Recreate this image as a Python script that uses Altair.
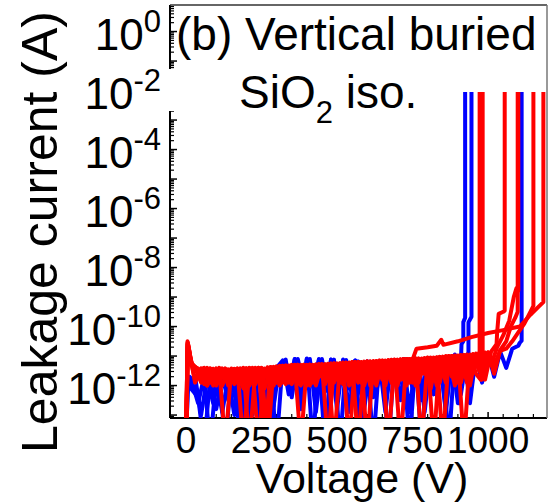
import altair as alt
import pandas as pd

# ---------------- data (log10 of leakage current, A) ----------------
GRID_A = [0, 6, 12, 20, 30, 50, 70, 90, 110, 130, 150, 170, 190, 210, 230, 250, 270, 290, 310, 330,
          350, 370, 390, 410, 430, 450, 470, 490, 510, 530, 550, 570, 590, 610, 630, 650, 670, 690,
          710, 730, 750, 770, 790, 810, 830, 850, 870, 890, 910, 930, 950, 970, 990, 1010, 1030,
          1050, 1070, 1090, 1110]
GRID_B = [0, 5, 10, 16, 40, 60, 80, 100, 120, 140, 160, 180, 200, 220, 240, 260, 280, 300, 320, 340,
          360, 380, 400, 420, 440, 460, 480, 500, 520, 540, 560, 580, 600, 620, 640, 660, 680, 700,
          720, 740, 760, 780, 800, 820, 840, 860, 880, 900, 920, 940, 960, 980, 1000, 1020, 1040,
          1060, 1080, 1100]

R1_LOG = [-14, -10.6, -10.9, -11.3, -11.4, -11.9, -11.45, -12.0, -11.4, -11.8,
          -11.45, -11.9, -11.4, -14, -11.45, -11.8, -11.4, -12.0, -11.35, -11.9,
          -11.3, -11.95, -11.3, -11.9, -11.3, -11.7, -11.28, -11.9, -11.25, -11.8,
          -11.2, -14, -11.2, -11.7, -11.18, -11.8, -11.15, -11.7, -11.12, -12.0,
          -11.1, -11.7, -11.08, -12.1, -11.05, -11.6, -11.0, -12.0, -10.98, -11.5, -10.95]
R1_TAIL_V = [965, 972, 972]
R1_TAIL_LOG = [-11.2, -11.35, -2.05]

R2_LOG = [-14, -10.55, -10.8, -11.2, -11.5, -11.4, -11.9, -11.42, -12.0, -11.45,
          -11.95, -11.42, -11.8, -11.4, -14, -11.42, -12.0, -11.35, -11.9, -11.32,
          -11.8, -11.3, -12.0, -11.3, -11.7, -11.27, -11.9, -11.25, -11.95, -11.22,
          -11.7, -11.2, -14, -11.17, -11.6, -11.15, -11.9, -11.12, -11.8, -11.1,
          -12.0, -11.08, -11.6, -11.05, -11.9, -11.0, -11.7, -10.98, -14, -10.95, -11.6]
R2_TAIL_V = [975, 982, 982]
R2_TAIL_LOG = [-11.8, -11.5, -2.05]

R3_LOG = [-14, -10.7, -11.0, -11.35, -11.9, -11.42, -12.0, -11.45, -11.8, -11.42,
          -11.9, -11.43, -12.1, -11.4, -11.7, -11.42, -14, -11.38, -11.9, -11.32,
          -11.95, -11.3, -11.75, -11.3, -12.0, -11.28, -11.8, -11.25, -11.9, -11.22,
          -11.9, -11.2, -12.0, -11.18, -11.7, -11.15, -14, -11.12, -11.8, -11.1,
          -11.9, -11.08, -11.6, -11.05, -12.0, -11.02, -11.55, -10.98, -11.9, -10.95,
          -11.4, -10.9, -11.8, -10.85]
R3_TAIL_V = [1028, 1030, 1035, 1050, 1055, 1055]
R3_TAIL_LOG = [-10.6, -10.2, -9.57, -9.5, -9.46, -2.05]

R4_LOG = [-14, -10.5, -10.75, -11.25, -11.45, -11.9, -11.42, -12.0, -11.45, -11.75,
          -11.43, -11.95, -11.42, -11.9, -11.4, -12.1, -11.38, -11.9, -11.33, -11.8,
          -11.3, -14, -11.3, -11.9, -11.28, -11.95, -11.26, -11.7, -11.23, -12.0,
          -11.2, -11.75, -11.18, -11.9, -11.16, -11.8, -11.13, -12.0, -11.1, -11.7,
          -11.08, -14, -11.06, -11.6, -11.03, -11.9, -11.0, -11.5, -10.97, -12.0,
          -10.93, -11.4, -10.88, -11.6, -10.8, -10.5]
R4_TAIL_V = [1075, 1090, 1098, 1098]
R4_TAIL_LOG = [-10.0, -9.7, -9.5, -2.05]

R5_LOG = [-14, -10.65, -10.95, -11.3, -11.42, -11.7, -11.4, -11.95, -11.43, -14,
          -11.42, -11.8, -11.42, -12.0, -11.4, -11.9, -11.38, -11.7, -11.33, -11.95,
          -11.32, -11.85, -11.3, -12.0, -11.28, -11.7, -11.26, -14, -11.24, -11.6,
          -11.21, -11.9, -11.19, -12.0, -11.17, -11.7, -11.14, -11.95, -11.11, -11.6,
          -11.1, -11.9, -11.07, -11.8, -11.04, -14, -11.0, -11.6, -10.97, -11.9,
          -10.93, -11.5, -10.88, -11.3]
R5_TAIL_V = [1030, 1050, 1070, 1085, 1094, 1100, 1100]
R5_TAIL_LOG = [-10.7, -10.3, -9.8, -9.0, -8.7, -8.78, -2.05]

R6_LOG = [-14, -10.6, -10.85, -11.3, -11.42, -11.95, -11.43, -11.8, -11.42, -12.0,
          -11.44, -11.9, -11.42, -11.7, -11.4, -14, -11.37, -11.8, -11.33, -11.9,
          -11.31, -12.0, -11.3, -11.7, -11.27, -11.95, -11.25, -11.8, -11.22, -14,
          -11.2, -11.9, -11.18, -11.65, -11.15, -12.0, -11.13, -11.7, -11.1, -11.9,
          -11.08, -11.6, -11.05, -14, -11.03, -11.55, -11.0, -11.9, -10.96, -11.4,
          -10.92, -11.8, -10.87, -11.3, -10.82, -10.75]
R6_TAIL_V = [1080, 1100, 1120, 1140, 1150, 1150]
R6_TAIL_LOG = [-10.5, -10.2, -9.9, -9.5, -9.3, -2.05]

R7_LOG = [-14, -10.55, -10.9, -11.35, -11.8, -11.44, -12.0, -11.43, -11.9, -11.44,
          -11.7, -11.42, -14, -11.41, -11.95, -11.4, -11.75, -11.37, -12.0, -11.33,
          -11.8, -11.3, -11.9, -11.29, -11.75, -11.27, -14, -11.25, -11.7, -11.23,
          -11.95, -11.2, -11.8, -11.19, -12.0, -11.16, -11.7, -11.13, -14, -11.1, -11.12]
R7_TAIL_V = [763, 800, 830, 845, 852, 900, 945, 1000, 1050, 1105, 1140, 1170, 1183, 1183]
R7_TAIL_LOG = [-10.75, -10.7, -10.65, -10.45, -10.62, -10.5, -10.36, -10.22, -10.12, -10.0,
               -9.6, -9.3, -9.17, -2.05]

B1_LOG = [-14, -12.3, -11.8, -11.75, -12.6, -11.7, -14, -11.75, -12.9, -11.7,
          -13.0, -11.72, -14, -11.68, -12.7, -11.6, -14, -11.4, -11.15, -12.3,
          -11.1, -12.8, -11.1, -11.9, -11.12, -14, -11.12, -12.4, -11.15, -12.9,
          -11.15, -12.3, -11.2, -14, -11.18, -12.6, -11.15, -12.1, -11.1, -12.9,
          -11.12, -14, -11.1, -12.3, -11.05, -12.9, -11.0, -12.6]
B1_TAIL_V = [905, 912, 918, 918, 924, 924]
B1_TAIL_LOG = [-12.6, -10.6, -10.5, -9.85, -9.7, -2.05]

B2_LOG = [-14, -12.0, -11.7, -11.9, -11.7, -13.0, -11.7, -12.6, -11.72, -14,
          -11.7, -12.8, -11.75, -13.0, -11.68, -14, -11.6, -12.7, -11.3, -11.12,
          -12.4, -11.1, -12.0, -11.1, -12.9, -11.1, -12.2, -11.12, -14, -11.13,
          -12.4, -11.18, -12.8, -11.2, -12.2, -11.17, -14, -11.13, -12.5, -11.1,
          -12.1, -11.1, -12.9, -11.07, -12.3, -11.05, -14, -10.95, -12.3, -10.95]
B2_TAIL_V = [935, 935, 945, 945]
B2_TAIL_LOG = [-10.9, -9.86, -9.67, -2.05]

B3_LOG = [-14, -11.9, -11.75, -12.1, -12.4, -14, -11.75, -12.8, -11.7, -12.5,
          -11.72, -14, -11.7, -13.0, -11.65, -12.6, -11.5, -14, -11.2, -12.1,
          -11.1, -12.5, -11.08, -14, -11.1, -12.2, -11.12, -12.8, -11.12, -12.1,
          -11.15, -14, -11.18, -12.4, -11.17, -12.9, -11.14, -12.2, -11.1, -14,
          -11.1, -12.5, -11.08, -12.0, -11.05, -12.8, -11.02, -12.1, -10.98, -12.6,
          -10.95, -11.9, -10.9, -11.7, -10.85, -11.4, -10.75, -10.65]
B3_TAIL_V = [1105, 1111, 1111]
B3_TAIL_LOG = [-10.55, -10.48, -2.05]

CURVES = [
    ("B1", "blue", GRID_B, B1_LOG, B1_TAIL_V, B1_TAIL_LOG),
    ("B2", "blue", GRID_A, B2_LOG, B2_TAIL_V, B2_TAIL_LOG),
    ("B3", "blue", GRID_B, B3_LOG, B3_TAIL_V, B3_TAIL_LOG),
    ("R1", "red", GRID_A, R1_LOG, R1_TAIL_V, R1_TAIL_LOG),
    ("R2", "red", GRID_B, R2_LOG, R2_TAIL_V, R2_TAIL_LOG),
    ("R3", "red", GRID_A, R3_LOG, R3_TAIL_V, R3_TAIL_LOG),
    ("R4", "red", GRID_B, R4_LOG, R4_TAIL_V, R4_TAIL_LOG),
    ("R5", "red", GRID_A, R5_LOG, R5_TAIL_V, R5_TAIL_LOG),
    ("R6", "red", GRID_B, R6_LOG, R6_TAIL_V, R6_TAIL_LOG),
    ("R7", "red", GRID_A, R7_LOG, R7_TAIL_V, R7_TAIL_LOG),
]

Y_LABEL_EXP = [0, -2, -4, -6, -8, -10, -12]
X_LABELS = [0, 250, 500, 750, 1000]
X_MINOR = [50, 100, 150, 200, 300, 350, 400, 450, 550, 600, 650, 700, 800, 850, 900, 950,
           1050, 1100, 1150]
Y_MAJOR_EXP = [0, -1, -2, -3, -4, -5, -6, -7, -8, -9, -10, -11, -12, -13]
MINOR_MULT = [2, 3, 4, 5, 6, 7, 8, 9]

TITLE_LINE1 = "(b) Vertical buried"
TITLE_SI = "SiO"
TITLE_SUB = "2"
TITLE_ISO = "iso."
X_TITLE = "Voltage (V)"
Y_TITLE = "Leakage current (A)"

# ---------------- build tables ----------------
rows = []
for name, col, grid, logs, tv, tl in CURVES:
    pts = list(zip(grid, logs)) + list(zip(tv, tl))
    for i, (v, l) in enumerate(pts):
        rows.append({"curve": name, "color": col, "V": v, "I": 10.0 ** l, "i": i})
df = pd.DataFrame(rows)

W, H = 377, 413
YMIN, YMAX = 10 ** -13.1, 10 ** 0.9
XS = alt.Scale(domain=[-53, 1195], nice=False, zero=False)
YS = alt.Scale(type="log", domain=[YMIN, YMAX], nice=False)
FONT = "Liberation Sans"

# Arial advance widths (em)
AW = {"-": 0.333, " ": 0.278}
for d in "0123456789":
    AW[d] = 0.556
AW.update({"S": 0.667, "i": 0.222, "O": 0.778})


def tw(s, size):
    return sum(AW.get(c, 0.556) for c in s) * size


one = pd.DataFrame({"a": [0]})

# ticks (inward)
ymaj = pd.DataFrame({"val": [10.0 ** k for k in Y_MAJOR_EXP]})
ymin_vals = [m * 10.0 ** k for k in range(-14, 1) for m in MINOR_MULT]
ymin = pd.DataFrame({"val": [v for v in ymin_vals if YMIN <= v <= YMAX]})
xmaj = pd.DataFrame({"v": X_LABELS})
xmin = pd.DataFrame({"v": X_MINOR})

ytick_major = alt.Chart(ymaj).mark_rule(color="black", strokeWidth=1.5).encode(
    y=alt.Y("val:Q", scale=YS, axis=None), x=alt.value(0), x2=alt.value(7))
ytick_minor = alt.Chart(ymin).mark_rule(color="black", strokeWidth=1.2).encode(
    y=alt.Y("val:Q", scale=YS, axis=None), x=alt.value(0), x2=alt.value(4))
xtick_major = alt.Chart(xmaj).mark_rule(color="black", strokeWidth=1.5).encode(
    x=alt.X("v:Q", scale=XS, axis=None), y=alt.value(H), y2=alt.value(H - 6))
xtick_minor = alt.Chart(xmin).mark_rule(color="black", strokeWidth=1.2).encode(
    x=alt.X("v:Q", scale=XS, axis=None), y=alt.value(H), y2=alt.value(H - 4))

# frame
f_left = alt.Chart(one).mark_rule(color="black", strokeWidth=2).encode(
    x=alt.value(0), y=alt.value(0), y2=alt.value(H))
f_bottom = alt.Chart(one).mark_rule(color="black", strokeWidth=2).encode(
    x=alt.value(0), x2=alt.value(W), y=alt.value(H))
f_top = alt.Chart(one).mark_rule(color="#333333", strokeWidth=1.5).encode(
    x=alt.value(0), x2=alt.value(W), y=alt.value(0))
f_right = alt.Chart(one).mark_rule(color="#777777", strokeWidth=1.5).encode(
    x=alt.value(W), y=alt.value(0), y2=alt.value(H))

# data lines
blue = alt.Chart(df[df["color"] == "blue"]).mark_line(
    color="#0000ff", strokeWidth=4, clip=True, strokeJoin="round").encode(
    x=alt.X("V:Q", scale=XS, axis=None),
    y=alt.Y("I:Q", scale=YS, axis=None),
    detail="curve:N", order="i:Q")
red = alt.Chart(df[df["color"] == "red"]).mark_line(
    color="#ff0000", strokeWidth=4, clip=True, strokeJoin="round").encode(
    x=alt.X("V:Q", scale=XS, axis=None),
    y=alt.Y("I:Q", scale=YS, axis=None),
    detail="curve:N", order="i:Q")

# white background of the annotation's second line
box = alt.Chart(one).mark_rect(color="white").encode(
    x=alt.value(-5), x2=alt.value(262), y=alt.value(64), y2=alt.value(106))

# annotation text
BIG, SUB = 46, 31
x_si = 69
x_sub = x_si + tw(TITLE_SI, BIG)
x_iso = x_sub + tw(TITLE_SUB, SUB) + tw(" ", BIG)
ann = [
    (TITLE_LINE1, 6, 45, BIG),
    (TITLE_SI, x_si, 103, BIG),
    (TITLE_SUB, x_sub, 118, SUB),
    (TITLE_ISO, x_iso, 103, BIG),
]
ann_layers = [
    alt.Chart(one).mark_text(font=FONT, fontSize=fs, align="left", baseline="alphabetic",
                             color="black").encode(
        x=alt.value(x), y=alt.value(y), text=alt.value(t))
    for t, x, y, fs in ann
]

# y tick labels: "10" with superscript exponent
LBL, SUP = 44, 31
RIGHT = -9
ylab = pd.DataFrame({
    "val": [10.0 ** k for k in Y_LABEL_EXP],
    "sup": [str(k) for k in Y_LABEL_EXP],
    "xs": [RIGHT for k in Y_LABEL_EXP],
    "xb": [RIGHT - tw(str(k), SUP) for k in Y_LABEL_EXP],
})
ylab_base = alt.Chart(ylab).mark_text(font=FONT, fontSize=LBL, align="right",
                                      baseline="alphabetic", dy=18, color="black").encode(
    y=alt.Y("val:Q", scale=YS, axis=None), x=alt.X("xb:Q", scale=None), text=alt.value("10"))
ylab_sup = alt.Chart(ylab).mark_text(font=FONT, fontSize=SUP, align="right",
                                     baseline="alphabetic", dy=0, color="black").encode(
    y=alt.Y("val:Q", scale=YS, axis=None), x=alt.X("xs:Q", scale=None), text="sup:N")

# x tick labels
xlab = pd.DataFrame({"v": X_LABELS, "t": [str(v) for v in X_LABELS]})
xlab_layer = alt.Chart(xlab).mark_text(font=FONT, fontSize=37, align="center",
                                       baseline="alphabetic", color="black").encode(
    x=alt.X("v:Q", scale=XS, axis=None), y=alt.value(448), text="t:N")

# axis titles
xtitle = alt.Chart(one).mark_text(font=FONT, fontSize=43, align="center",
                                  baseline="alphabetic", color="black").encode(
    x=alt.value(192), y=alt.value(488), text=alt.value(X_TITLE))
ytitle = alt.Chart(one).mark_text(font=FONT, fontSize=50, align="center", angle=270,
                                  baseline="alphabetic", color="black").encode(
    x=alt.value(-113), y=alt.value(227), text=alt.value(Y_TITLE))

chart = alt.layer(
    ytick_major, ytick_minor, xtick_major, xtick_minor,
    f_left, f_bottom, f_top, f_right,
    blue, red, box, *ann_layers,
    ylab_base, ylab_sup, xlab_layer, xtitle, ytitle,
).properties(
    width=W, height=H,
    autosize=alt.AutoSizeParams(type="none"),
    padding={"left": 170, "top": 5, "right": 3, "bottom": 86},
).configure_view(strokeWidth=0)

chart.save("out.html", embed_options={"renderer": "svg", "actions": False})
